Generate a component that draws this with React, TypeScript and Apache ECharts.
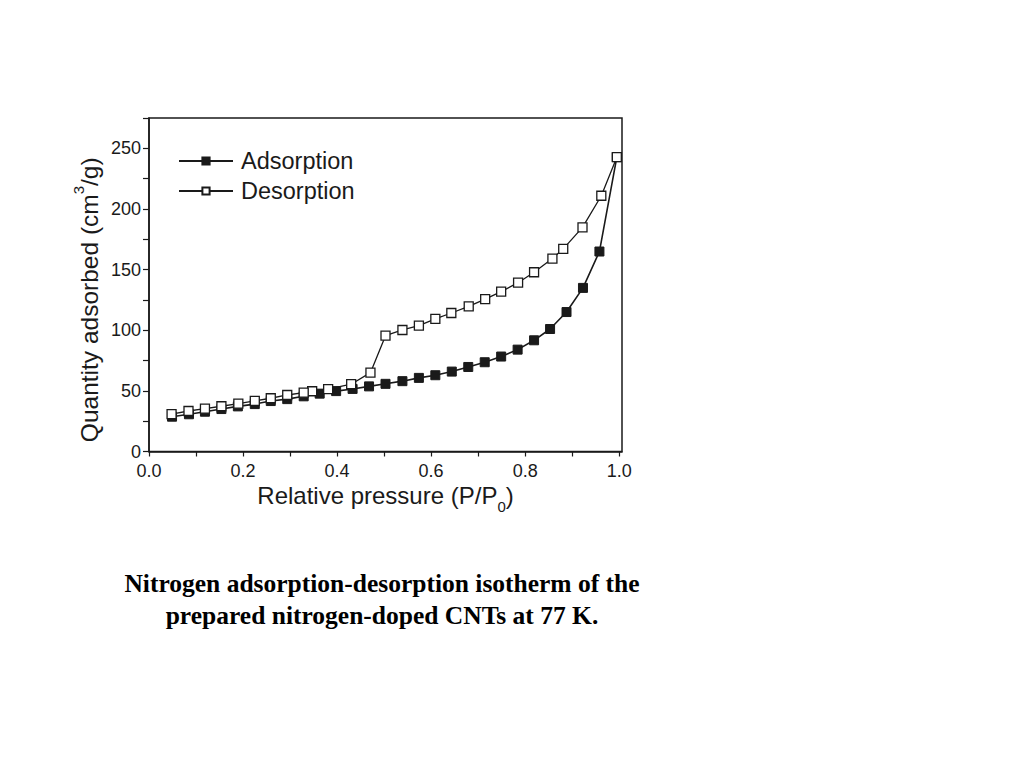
import React, { useEffect, useRef } from "react";
import * as echarts from "echarts";

const adsorptionP = [0.049, 0.085, 0.119, 0.154, 0.189, 0.225, 0.259, 0.294, 0.329, 0.363, 0.398, 0.433, 0.468, 0.503, 0.539, 0.574, 0.609, 0.644, 0.679, 0.714, 0.749, 0.784, 0.819, 0.853, 0.888, 0.923, 0.958, 0.995];
const adsorptionV = [28.7, 30.7, 32.8, 35.0, 37.2, 39.1, 41.6, 43.2, 45.5, 47.7, 49.8, 51.6, 53.7, 55.8, 58.0, 60.7, 62.9, 65.9, 69.7, 73.6, 78.3, 84.0, 91.7, 101.0, 115.0, 134.9, 164.9, 242.7];

const desorptionP = [0.995, 0.962, 0.922, 0.881, 0.858, 0.819, 0.785, 0.749, 0.715, 0.68, 0.643, 0.609, 0.574, 0.539, 0.503, 0.471, 0.43, 0.381, 0.347, 0.329, 0.294, 0.259, 0.225, 0.19, 0.154, 0.119, 0.084, 0.048];
const desorptionV = [242.7, 210.9, 184.8, 167.1, 159.1, 147.8, 139.2, 131.8, 125.6, 119.7, 114.2, 109.4, 103.8, 100.2, 95.5, 65.0, 55.5, 51.4, 49.7, 48.5, 46.6, 43.9, 41.7, 39.4, 37.3, 35.3, 33.4, 30.9];

const seriesNames = ["Adsorption", "Desorption"];
const xTitle = "Relative pressure (P/P{sub|0})";
const yTitle = "Quantity adsorbed (cm{sup|3}/g)";
const caption = "Nitrogen adsorption-desorption isotherm of the\nprepared nitrogen-doped CNTs at 77 K.";

const FONT = "'Liberation Sans', Arial, Helvetica, sans-serif";
const INK = "#1a1a1a";

export default function App() {
  const ref = useRef<HTMLDivElement>(null);
  useEffect(() => {
    if (!ref.current) return;
    const chart = echarts.init(ref.current, null, { renderer: "svg" });
    const ads = adsorptionP.map((p, i) => [p, adsorptionV[i]]);
    const des = desorptionP.map((p, i) => [p, desorptionV[i]]);
    chart.setOption({
      animation: false,
      backgroundColor: "#ffffff",
      title: {
        text: caption,
        left: 377,
        top: 562,
        textAlign: "center",
        textStyle: {
          fontFamily: "'Liberation Serif', 'Times New Roman', serif",
          fontWeight: "bold",
          fontSize: 25.5,
          lineHeight: 32,
          color: "#000",
        },
      },
      grid: {
        left: 149,
        right: 402,
        top: 118,
        bottom: 316.5,
        show: true,
        borderColor: INK,
        borderWidth: 1.5,
        backgroundColor: "transparent",
      },
      legend: {
        data: seriesNames,
        orient: "vertical",
        left: 173,
        top: 144,
        itemWidth: 54,
        itemHeight: 9,
        itemGap: 6,
        textStyle: {
          fontFamily: FONT,
          fontSize: 23.5,
          color: INK,
          padding: [0, 0, 0, 3],
        },
      },
      xAxis: {
        type: "value",
        min: 0,
        max: 1.006,
        interval: 0.1,
        name: xTitle,
        nameLocation: "middle",
        nameGap: 26,
        nameMoveOverlap: false,
        nameTextStyle: {
          fontFamily: FONT,
          fontSize: 24,
          color: INK,
          lineHeight: 36,
          rich: {
            sub: { fontFamily: FONT, fontSize: 15, color: INK, verticalAlign: "bottom" },
          },
        },
        axisLine: { show: true, onZero: false, lineStyle: { color: INK, width: 1.5 } },
        axisTick: { show: true, inside: false, length: 5, lineStyle: { color: INK, width: 1.2 } },
        axisLabel: {
          margin: 10,
          fontFamily: FONT,
          fontSize: 18,
          color: INK,
          showMaxLabel: false,
          formatter: (v: number) =>
            Math.abs(v * 5 - Math.round(v * 5)) < 1e-6 ? v.toFixed(1) : "",
        },
        splitLine: { show: false },
      },
      yAxis: {
        type: "value",
        min: 0,
        max: 275,
        interval: 25,
        name: yTitle,
        nameLocation: "middle",
        nameGap: 42,
        nameMoveOverlap: false,
        nameTextStyle: {
          fontFamily: FONT,
          fontSize: 24.5,
          color: INK,
          lineHeight: 36,
          padding: [0, 30, 0, 0],
          rich: {
            sup: { fontFamily: FONT, fontSize: 15, color: INK, verticalAlign: "top" },
          },
        },
        axisLine: { show: true, onZero: false, lineStyle: { color: INK, width: 1.5 } },
        axisTick: { show: true, inside: false, length: 6, lineStyle: { color: INK, width: 1.2 } },
        axisLabel: {
          margin: 8,
          fontFamily: FONT,
          fontSize: 18,
          color: INK,
          formatter: (v: number) => (v % 50 === 0 ? String(v) : ""),
        },
        splitLine: { show: false },
      },
      series: [
        {
          name: seriesNames[0],
          type: "line",
          data: ads,
          symbol: "rect",
          symbolSize: 9,
          lineStyle: { color: INK, width: 1.6 },
          itemStyle: { color: INK, borderColor: INK, borderWidth: 1 },
          z: 2,
        },
        {
          name: seriesNames[1],
          type: "line",
          data: des,
          symbol: "rect",
          symbolSize: 9,
          lineStyle: { color: INK, width: 1.3 },
          itemStyle: { color: "#ffffff", borderColor: INK, borderWidth: 1.3 },
          z: 3,
        },
      ],
    });
    return () => chart.dispose();
  }, []);
  return (
    <div
      ref={ref}
      style={{ position: "absolute", left: 0, top: 0, width: 1024, height: 768 }}
    />
  );
}
